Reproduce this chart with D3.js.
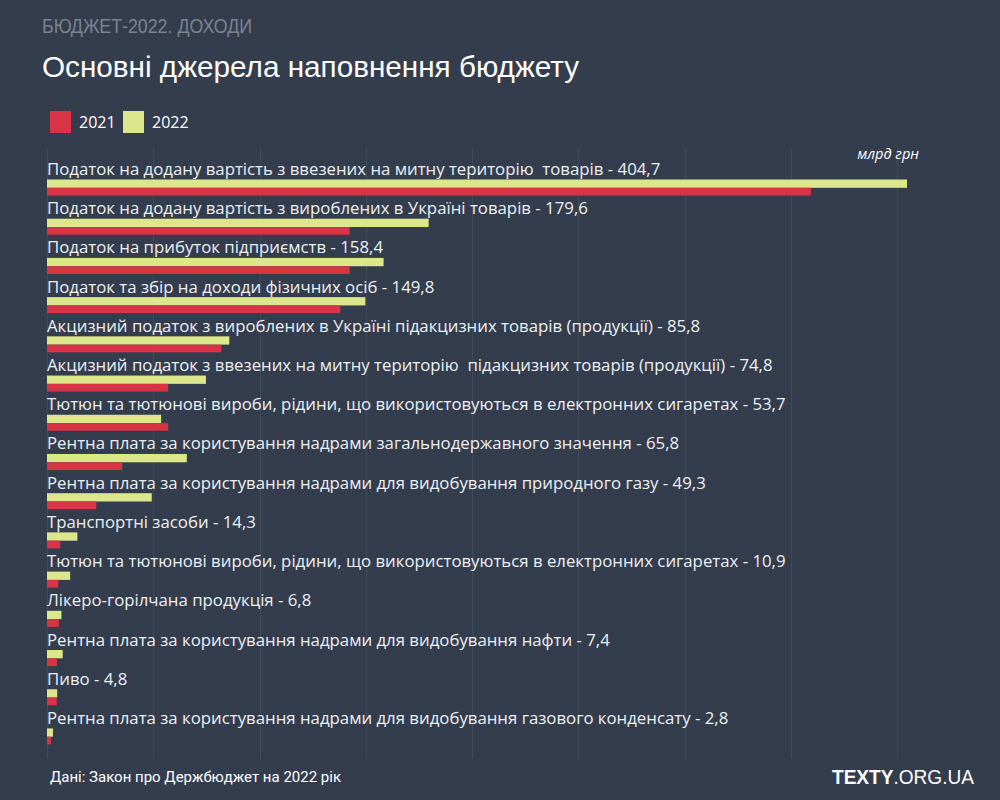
<!DOCTYPE html>
<html>
<head>
<meta charset="utf-8">
<script src="https://cdn.jsdelivr.net/npm/d3@7"></script>
<style>
  html, body { margin: 0; padding: 0; background: #333d4e; }
  svg { display: block; }
  text { white-space: pre; }
</style>
</head>
<body>
<svg id="chart" width="1000" height="800"></svg>
<script>
//  chart data
var categories = [
    'Податок на додану вартість з ввезених на митну територію  товарів',
    'Податок на додану вартість з вироблених в Україні товарів',
    'Податок на прибуток підприємств',
    'Податок та збір на доходи фізичних осіб',
    'Акцизний податок з вироблених в Україні підакцизних товарів (продукції)',
    'Акцизний податок з ввезених на митну територію  підакцизних товарів (продукції)',
    'Тютюн та тютюнові вироби, рідини, що використовуються в електронних сигаретах',
    'Рентна плата за користування надрами загальнодержавного значення',
    'Рентна плата за користування надрами для видобування природного газу',
    'Транспортні засоби',
    'Тютюн та тютюнові вироби, рідини, що використовуються в електронних сигаретах',
    'Лікеро-горілчана продукція',
    'Рентна плата за користування надрами для видобування нафти',
    'Пиво',
    'Рентна плата за користування надрами для видобування газового конденсату'
];
var values2022 = [404.7, 179.6, 158.4, 149.8, 85.8, 74.8, 53.7, 65.8, 49.3, 14.3, 10.9, 6.8, 7.4, 4.8, 2.8];
var values2021 = [359.5, 142.4, 142.4, 138.0, 82.0, 57.0, 57.0, 35.4, 23.2, 6.2, 5.3, 5.6, 4.7, 4.6, 1.9];
var gridTicks = [0, 50, 100, 150, 200, 250, 300, 350, 400];
var seriesNames = ['2021', '2022'];

var colors = { y2021: '#d83446', y2022: '#dce68a' };

var svg = d3.select('#chart');
var rows = categories.map(function(c, i) { return { id: i, label: c, v21: values2021[i], v22: values2022[i] }; });

//  scales
var x = d3.scaleLinear().domain([0, 404.7]).range([47, 907]);
var y = d3.scaleBand().domain(d3.range(rows.length)).range([157, 157 + 39.21 * rows.length]);

//  header
svg.append('text').attr('x', 42).attr('y', 33)
    .attr('font-family', 'Liberation Sans, Arial, sans-serif').attr('font-size', 19.5)
    .attr('textLength', 210).attr('lengthAdjust', 'spacingAndGlyphs')
    .attr('fill', '#7c838e').text('БЮДЖЕТ-2022. ДОХОДИ');
svg.append('text').attr('x', 42).attr('y', 77)
    .attr('font-family', 'Liberation Sans, Arial, sans-serif').attr('font-size', 29.7)
    .attr('fill', '#ffffff').text('Основні джерела наповнення бюджету');

//  legend
var legend = svg.append('g');
seriesNames.forEach(function(name, i) {
    var lx = 50 + i * 73;
    legend.append('rect').attr('x', lx).attr('y', 111).attr('width', 21).attr('height', 22)
        .attr('fill', i === 0 ? colors.y2021 : colors.y2022);
    legend.append('text').attr('x', lx + 29).attr('y', 128)
        .attr('font-family', 'Open Sans, sans-serif').attr('font-size', 16)
        .attr('fill', '#ffffff').text(name);
});

//  grid
svg.append('g').selectAll('line').data(gridTicks).enter().append('line')
    .attr('x1', function(d) { return Math.round(x(d)) + 0.5; })
    .attr('x2', function(d) { return Math.round(x(d)) + 0.5; })
    .attr('y1', 148).attr('y2', 759)
    .attr('stroke', '#3f4a5b').attr('stroke-width', 1);

svg.append('text').attr('x', 919).attr('y', 159).attr('text-anchor', 'end')
    .attr('font-family', 'Open Sans, sans-serif').attr('font-size', 14.5).attr('font-style', 'italic')
    .attr('fill', '#ffffff').text('млрд грн');

//  rows
var row = svg.append('g').selectAll('g').data(rows).enter().append('g')
    .attr('transform', function(d) { return 'translate(0,' + y(d.id) + ')'; });

row.append('rect').attr('x', x(0)).attr('y', 22.5).attr('height', 8.3)
    .attr('width', function(d) { return x(d.v22) - x(0); })
    .attr('fill', colors.y2022);
row.append('rect').attr('x', x(0)).attr('y', 30.8).attr('height', 7.7)
    .attr('width', function(d) { return x(d.v21) - x(0); })
    .attr('fill', colors.y2021);
row.append('text').attr('x', 47).attr('y', 18)
    .attr('font-family', 'Open Sans, sans-serif').attr('font-size', 16.8)
    .attr('fill', '#eef0f2')
    .text(function(d) { return d.label + ' - ' + d3.format('.1f')(d.v22).replace('.', ','); });

//  footer
svg.append('text').attr('x', 50).attr('y', 782)
    .attr('font-family', 'Roboto, sans-serif').attr('font-size', 15)
    .attr('textLength', 291).attr('lengthAdjust', 'spacingAndGlyphs')
    .attr('fill', '#ffffff').text('Дані: Закон про Держбюджет на 2022 рік');
var logo = svg.append('text').attr('x', 832).attr('y', 784)
    .attr('font-family', 'Liberation Sans, Arial, sans-serif').attr('font-size', 20)
    .attr('fill', '#ffffff').attr('textLength', 142).attr('lengthAdjust', 'spacingAndGlyphs');
logo.append('tspan').attr('font-weight', 'bold').text('TEXTY');
logo.append('tspan').text('.ORG.UA');
</script>
</body>
</html>
